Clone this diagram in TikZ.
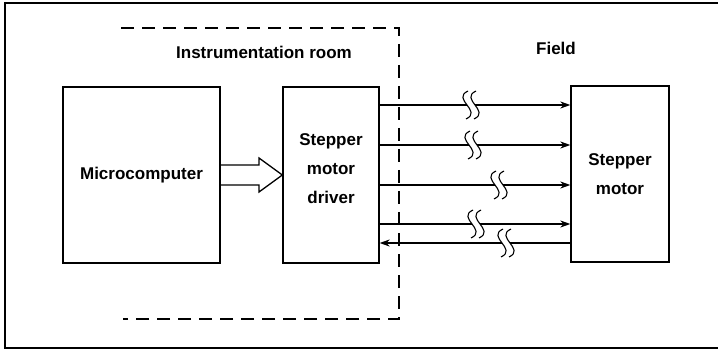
\documentclass[tikz,border=0pt]{standalone}
\usepackage{fontspec}
\setmainfont{Liberation Sans}
\usetikzlibrary{arrows.meta}
\tikzset{
  blok/.style={draw,line width=1.3pt,align=center},
  granica/.style={line width=1.1pt,dash pattern=on 13pt off 8pt},
  lom/.style={line width=1.1pt},
}
\begin{document}
\begin{tikzpicture}[x=1pt,y=-1pt,>={Stealth[length=10pt,width=7pt,inset=3pt]},line width=1.3pt,font=\bfseries\fontsize{17}{29}\selectfont]
    \useasboundingbox (0,0) rectangle (718,350);
    \draw[line width=2.6pt] (718,3) -- (5,3);
    \draw[line width=1.6pt] (5,2) -- (5,348) -- (718,348);
    \node[blok,minimum width=157pt,minimum height=176pt] (mc) at (141.5,175) {Microcomputer};
    \node[blok,minimum width=96pt,minimum height=176pt] (drv) at (331,175) {};
    \node[align=center] (drvt) at (331,169) {Stepper\\motor\\driver};
    \node[blok,minimum width=98pt,minimum height=176pt] (mot) at (620,174) {Stepper\\motor};
    \node (ir) at (264,52) {Instrumentation room};
    \node (fld) at (556,48.5) {Field};
    \draw[granica] (121,28) -- (399,28) -- (399,319) -- (123,319);
    \draw (mc.east |- 0,165) -- (259,165) -- (259,158) -- (drv.west |- 0,175) -- (259,192) -- (259,185) -- (mc.east |- 0,185);
    \foreach \y/\b in {105/471,145/473,185/499,224/476}{
        \draw (drv.east |- 0,\y) -- (\b-4,\y);
        \draw[->] (\b+4,\y) -- (mot.west |- 0,\y);
        \draw[lom] (\b-3,\y-14) .. controls (\b-20,\y-6) and (\b+12,\y+6) .. (\b-5,\y+14);
        \draw[lom] (\b+5,\y-14) .. controls (\b-12,\y-6) and (\b+20,\y+6) .. (\b+3,\y+14);
    }
    \draw (mot.west |- 0,243) -- (510,243);
    \draw[->] (502,243) -- (drv.east |- 0,243);
    \draw[lom] (503,229) .. controls (486,237) and (518,249) .. (501,257);
    \draw[lom] (511,229) .. controls (494,237) and (526,249) .. (509,257);
\end{tikzpicture}
\end{document}
